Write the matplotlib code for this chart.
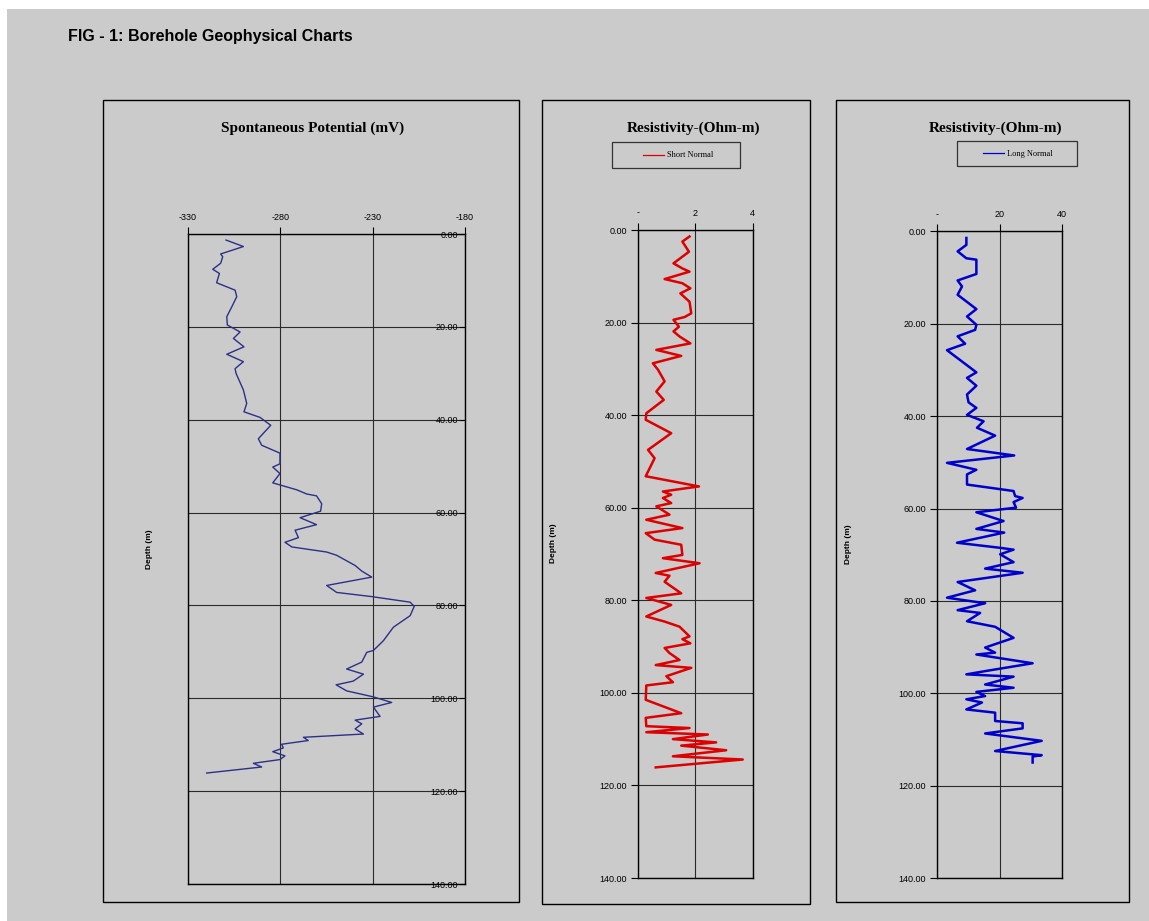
import matplotlib.pyplot as plt
from matplotlib.patches import Rectangle
from matplotlib.lines import Line2D

W, H = 1149, 921
BG = '#cbcbcb'

# Spontaneous potential log (depth in m, SP in mV)
sp_depth = [1.3, 2.7, 4.3, 4.9, 6.3, 7.6, 8.5, 10.5, 12.1, 13.5, 15.7, 17.8, 19.6,
            21.1, 22.5, 24.3, 25.9, 27.5, 29.0, 30.0, 33.6, 36.5, 38.3, 39.5, 41.2,
            44.1, 45.5, 47.2, 49.5, 50.2, 51.6, 53.6, 55.1, 56.0, 56.4, 58.1, 59.7,
            61.1, 62.6, 63.8, 65.4, 66.4, 67.4, 68.5, 69.2, 71.4, 72.6, 73.9, 75.7,
            77.2, 78.1, 79.3, 80.2, 82.2, 84.7, 87.6, 89.7, 90.1, 92.2, 93.7, 94.8,
            96.3, 97.1, 98.4, 99.7, 100.9, 101.9, 103.9, 104.7, 105.5, 106.6, 107.7,
            108.4, 109.1, 109.9, 110.7, 111.5, 112.4, 113.2, 114.0, 114.8, 116.1]
sp_mv = [-309.4, -300.0, -312.3, -311.2, -312.3, -316.6, -313.0, -314.5, -304.5, -303.6,
         -306.3, -309.0, -308.7, -301.8, -305.4, -299.7, -309.0, -300.0, -304.5, -304.0,
         -300.0, -298.2, -299.7, -291.0, -285.2, -291.9, -290.1, -280.2, -280.2, -284.1,
         -280.2, -284.1, -271.1, -265.7, -260.4, -257.6, -258.2, -269.3, -260.4, -272.0,
         -270.2, -277.5, -273.8, -254.9, -249.5, -239.5, -235.9, -230.5, -254.9, -249.5,
         -230.5, -209.7, -207.5, -209.7, -218.8, -224.2, -229.6, -233.2, -235.9, -244.1,
         -235.0, -240.5, -249.8, -244.1, -229.6, -219.7, -229.6, -226.0, -239.5, -235.9,
         -239.5, -235.0, -267.5, -264.9, -279.3, -278.4, -284.1, -277.5, -280.2, -294.6,
         -290.1, -319.9]

# Short normal resistivity (Ohm-m)
short_depth = [1.4, 2.5, 4.7, 7.2, 8.3, 9.0, 10.6, 11.5, 12.6, 13.7, 15.5, 18.0, 18.8,
               19.4, 20.9, 21.9, 23.0, 24.5, 25.9, 27.2, 28.8, 30.2, 32.7, 34.9, 36.7,
               39.6, 41.0, 43.9, 47.5, 49.3, 53.2, 55.4, 56.5, 57.2, 57.9, 59.0, 59.7,
               61.5, 62.6, 64.4, 65.5, 66.9, 68.0, 70.2, 70.9, 72.0, 74.1, 74.7, 76.0,
               78.5, 79.5, 81.0, 83.5, 84.6, 85.7, 87.8, 88.4, 89.3, 90.3, 91.4, 92.9,
               94.0, 94.6, 96.4, 97.7, 98.4, 101.5, 104.4, 105.4, 107.2, 107.6, 108.5,
               109.0, 110.0, 110.7, 111.4, 112.4, 113.7, 114.4, 116.1]
short_ohm = [1.80, 1.55, 1.78, 1.24, 1.55, 1.80, 0.93, 1.55, 1.83, 1.48, 1.80, 1.86, 1.63,
             1.24, 1.43, 1.24, 1.45, 1.83, 0.64, 1.51, 0.52, 0.70, 0.93, 0.64, 0.90,
             0.29, 0.27, 1.16, 0.35, 0.58, 0.27, 2.13, 0.87, 1.16, 0.87, 1.16, 0.64,
             1.10, 0.29, 1.55, 0.27, 0.58, 1.51, 1.55, 0.87, 2.15, 0.62, 1.10, 0.93,
             1.51, 0.29, 1.16, 0.29, 0.93, 1.45, 1.80, 1.55, 1.83, 0.93, 1.10, 1.45,
             0.62, 1.86, 0.99, 1.22, 0.29, 0.27, 1.51, 0.27, 0.29, 1.80, 0.29,
             2.44, 1.22, 2.73, 1.51, 3.08, 1.22, 3.66, 0.62]

# Long normal resistivity (Ohm-m)
long_depth = [1.4, 2.9, 4.3, 5.8, 6.1, 9.2, 10.6, 11.9, 13.7, 16.8, 18.4, 20.2, 21.3,
              22.7, 24.3, 25.7, 30.5, 31.7, 33.4, 35.3, 37.0, 38.2, 39.7, 41.1, 42.5,
              44.2, 47.1, 48.5, 50.1, 51.6, 52.6, 54.8, 56.2, 57.3, 57.7, 58.6, 59.8,
              60.8, 62.7, 64.4, 65.2, 67.4, 68.5, 68.9, 69.9, 71.6, 73.0, 73.9, 75.9,
              77.7, 79.3, 80.5, 82.0, 82.6, 84.4, 85.6, 88.0, 90.1, 91.2, 91.6, 93.5,
              95.2, 95.9, 96.4, 98.1, 98.8, 99.7, 100.6, 101.3, 102.0, 103.5, 104.2,
              106.0, 106.5, 107.6, 108.7, 110.3, 112.5, 113.4, 113.7, 115.0]
long_ohm = [9.4, 9.4, 6.6, 9.4, 12.6, 12.6, 6.6, 8.0, 6.6, 12.6, 9.6, 12.6, 12.2,
            6.6, 9.0, 3.2, 12.6, 9.6, 12.6, 9.6, 10.1, 12.6, 9.6, 14.9, 12.8,
            18.6, 9.6, 24.7, 3.2, 12.6, 9.6, 9.6, 24.5, 25.0, 27.4, 24.5, 25.3,
            12.6, 21.3, 12.6, 21.5, 6.4, 20.2, 24.5, 20.2, 24.5, 15.4, 27.4, 6.6,
            12.2, 3.2, 15.4, 6.6, 13.8, 9.6, 18.6, 24.5, 15.4, 18.6, 12.6, 30.6,
            15.4, 9.4, 24.5, 15.4, 24.5, 12.6, 15.4, 9.4, 14.4, 9.4, 18.6,
            18.6, 27.4, 27.4, 15.4, 33.5, 18.6, 33.5, 30.6, 30.6]

depth_ticks = [0, 20, 40, 60, 80, 100, 120, 140]
depth_labels = ['%.2f' % d for d in depth_ticks]
sp_ticks = [-330, -280, -230, -180]
sp_labels = ['-330', '-280', '-230', '-180']
short_ticks = [0, 2, 4]
short_labels = ['-', '2', '4']
long_ticks = [0, 20, 40]
long_labels = ['-', '20', '40']


def frac(x0, y0, x1, y1):
    # pixel box (origin top-left) -> figure fraction [left, bottom, width, height]
    return [x0 / W, 1 - y1 / H, (x1 - x0) / W, (y1 - y0) / H]


def panel_frame(fig, x0, y0, x1, y1):
    l, b, w, h = frac(x0, y0, x1, y1)
    fig.add_artist(Rectangle((l, b), w, h, transform=fig.transFigure,
                             facecolor='none', edgecolor='black', lw=1.0))


def legend_box(fig, x0, y0, x1, y1, line_x0, line_x1, color, label):
    l, b, w, h = frac(x0, y0, x1, y1)
    fig.add_artist(Rectangle((l, b), w, h, transform=fig.transFigure,
                             facecolor='none', edgecolor='#333333', lw=0.9))
    yc = 1 - (y0 + y1) / 2 / H
    fig.add_artist(Line2D([line_x0 / W, line_x1 / W], [yc, yc],
                          transform=fig.transFigure, color=color, lw=0.9))
    fig.text((line_x1 + 3) / W, yc, label, fontsize=6, family='Liberation Serif',
             ha='left', va='center')


def style_track(ax, xlim, xticks, xlabels):
    ax.set_facecolor(BG)
    ax.set_xlim(*xlim)
    ax.set_ylim(140, 0)
    ax.xaxis.tick_top()
    ax.set_xticks(xticks, xlabels)
    ax.tick_params(axis='x', direction='out', length=5, pad=4, labelsize=6.5,
                   color='black')
    ax.grid(True, color='#2a2a2a', lw=0.8)
    for s in ax.spines.values():
        s.set_color('black')
        s.set_linewidth(1.0)


plt.rcParams['font.family'] = 'Liberation Sans'
fig = plt.figure(figsize=(W / 100, H / 100), dpi=100)
fig.patch.set_facecolor('white')
fig.add_artist(Rectangle((7 / W, 0), 1 - 7 / W, 1 - 9 / H, transform=fig.transFigure,
                         facecolor=BG, edgecolor='none', zorder=-10))

fig.text(68 / W, 1 - 37 / H, 'FIG - 1: Borehole Geophysical Charts', fontsize=11.5,
         fontweight='bold', ha='left', va='center')

# Panel frames
panel_frame(fig, 103, 100, 519, 902)
panel_frame(fig, 542, 100, 810, 904)
panel_frame(fig, 836, 100, 1129, 902)

title_kw = dict(fontsize=11, fontweight='bold', family='Liberation Serif',
                ha='center', va='center')
fig.text(313 / W, 1 - 128 / H, 'Spontaneous Potential (mV)', **title_kw)
fig.text(694 / W, 1 - 128 / H, 'Resistivity-(Ohm-m)', **title_kw)
fig.text(996 / W, 1 - 128 / H, 'Resistivity-(Ohm-m)', **title_kw)

# SP track
ax1 = fig.add_axes(frac(188, 234, 465, 884))
style_track(ax1, (-330, -180), sp_ticks, sp_labels)
ax1.plot(sp_mv, sp_depth, color='#2b3088', lw=1.0)
ax1.yaxis.tick_right()
ax1.set_yticks(depth_ticks, depth_labels, ha='right')
ax1.tick_params(axis='y', direction='in', length=4, pad=-5, labelsize=6.5)
ax1.yaxis.set_label_position('left')
ax1.set_ylabel('Depth (m)', fontsize=6, fontweight='bold')
ax1.yaxis.set_label_coords(-0.125, 0.515)

# Short normal track
ax2 = fig.add_axes(frac(638, 230, 752.5, 878))
style_track(ax2, (0, 4), short_ticks, short_labels)
ax2.plot(short_ohm, short_depth, color='#dd0000', lw=1.8)
ax2.set_yticks(depth_ticks, depth_labels)
ax2.tick_params(axis='y', direction='out', length=5, pad=3, labelsize=6.5)
ax2.set_ylabel('Depth (m)', fontsize=6, fontweight='bold')
ax2.yaxis.set_label_coords(-0.71, 0.517)
legend_box(fig, 612, 142, 740, 168, 643, 664, '#dd0000', 'Short Normal')

# Long normal track
ax3 = fig.add_axes(frac(937, 231.5, 1062, 878))
style_track(ax3, (0, 40), long_ticks, long_labels)
ax3.plot(long_ohm, long_depth, color='#0000cc', lw=1.8)
ax3.set_yticks(depth_ticks, depth_labels)
ax3.tick_params(axis='y', direction='out', length=5, pad=3, labelsize=6.5)
ax3.set_ylabel('Depth (m)', fontsize=6, fontweight='bold')
ax3.yaxis.set_label_coords(-0.68, 0.517)
legend_box(fig, 957, 141, 1077, 166, 983, 1004, '#0000cc', 'Long Normal')

fig.savefig('out.png', dpi=100, facecolor=fig.get_facecolor())
